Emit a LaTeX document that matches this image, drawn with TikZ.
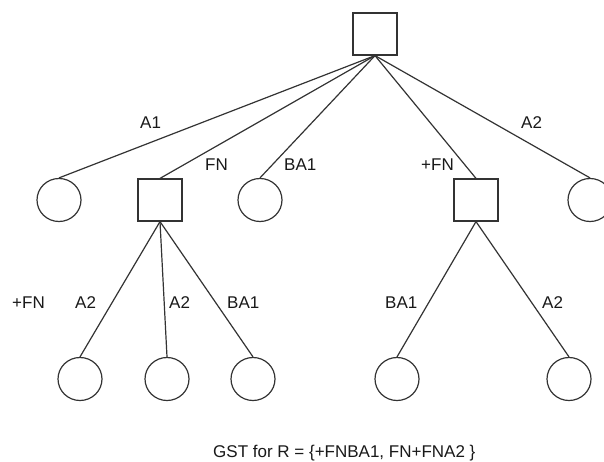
\documentclass[tikz,border=0pt]{standalone}
\usepackage{fontspec}
\usetikzlibrary{shapes.geometric}
\setmainfont{Liberation Sans}
\begin{document}
\begin{tikzpicture}[x=1pt,y=-1pt,
  edge/.style={draw=black!80, line width=1.2pt},
  sq/.style={draw=black!80, line width=1.2pt, rectangle, minimum width=44pt, minimum height=42pt, inner sep=0pt},
  leaf/.style={draw=black!80, line width=1.2pt, ellipse, minimum width=44pt, minimum height=43pt, inner sep=0pt},
  lbl/.style={font=\fontsize{17}{19}\selectfont, text=black!90, inner sep=0pt, anchor=base west}]
\path[use as bounding box, fill=white] (0,0) rectangle (604,462);

% root
\node[sq] (root) at (375,34) {};

% first level
\node[leaf] (c1) at (59,200) {};
\node[sq]   (s1) at (160,200) {};
\node[leaf] (c2) at (260,200) {};
\node[sq]   (s2) at (476,200) {};
\node[leaf] (c3) at (590,200) {};

% second level
\node[leaf] (d1) at (80,379) {};
\node[leaf] (d2) at (167,379) {};
\node[leaf] (d3) at (253,379) {};
\node[leaf] (d4) at (397,379) {};
\node[leaf] (d5) at (569,379) {};

% edges
\draw[edge] (root.south) -- (c1.north);
\draw[edge] (root.south) -- (s1.north);
\draw[edge] (root.south) -- (c2.north);
\draw[edge] (root.south) -- (s2.north);
\draw[edge] (root.south) -- (c3.north);
\draw[edge] (s1.south) -- (d1.north);
\draw[edge] (s1.south) -- (d2.north);
\draw[edge] (s1.south) -- (d3.north);
\draw[edge] (s2.south) -- (d4.north);
\draw[edge] (s2.south) -- (d5.north);

% edge labels
\node[lbl] (l1) at (140,129) {A1};
\node[lbl] (l2) at (205,171) {FN};
\node[lbl] (l3) at (284,171) {BA1};
\node[lbl] (l4) at (421,171) {+FN};
\node[lbl] (l5) at (521,129) {A2};
\node[lbl] (l6) at (12,308) {+FN};
\node[lbl] (l7) at (75,308) {A2};
\node[lbl] (l8) at (169,308) {A2};
\node[lbl] (l9) at (227,308) {BA1};
\node[lbl] (l10) at (385,308) {BA1};
\node[lbl] (l11) at (542,308) {A2};

% caption
\node[lbl] (cap) at (213,457) {GST for R = \{+FNBA1, FN+FNA2 \}};
\end{tikzpicture}
\end{document}
